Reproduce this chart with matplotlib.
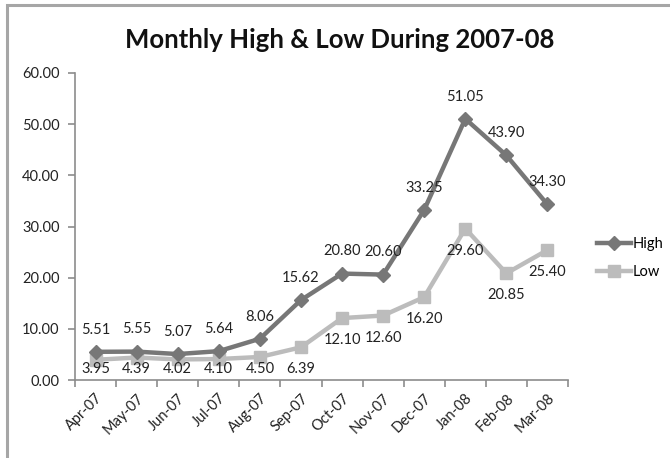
import matplotlib
matplotlib.use("Agg")
import matplotlib.pyplot as plt
from matplotlib.lines import Line2D
from matplotlib.patches import Rectangle

months = ["Apr-07", "May-07", "Jun-07", "Jul-07", "Aug-07", "Sep-07",
          "Oct-07", "Nov-07", "Dec-07", "Jan-08", "Feb-08", "Mar-08"]
high = [5.51, 5.55, 5.07, 5.64, 8.06, 15.62, 20.80, 20.60, 33.25, 51.05, 43.90, 34.30]
low = [3.95, 4.39, 4.02, 4.10, 4.50, 6.39, 12.10, 12.60, 16.20, 29.60, 20.85, 25.40]
yticks = [0, 10, 20, 30, 40, 50, 60]

HIGH_C = "#777777"
LOW_C = "#bcbcbc"
AXIS_C = "#8c8c8c"
FONT = "Lato"
FS = 10.5

plt.rcParams["font.family"] = [FONT, "DejaVu Sans"]

fig = plt.figure(figsize=(6.70, 4.58), dpi=100)
ax = fig.add_axes([75 / 670, 1 - 380 / 458, 493 / 670, 307 / 458])

x = list(range(len(months)))
ax.plot(x, high, color=HIGH_C, lw=3.2, marker="D", ms=7, mec=HIGH_C, mfc=HIGH_C,
        solid_joinstyle="miter", zorder=3)
ax.plot(x, low, color=LOW_C, lw=3.2, marker="s", ms=9, mec=LOW_C, mfc=LOW_C,
        solid_joinstyle="miter", zorder=2)

ax.set_xlim(-0.5, len(months) - 0.5)
ax.set_ylim(0, 60)

# value labels: highs above, lows below (kept inside the plot area)
for i, v in enumerate(high):
    ax.annotate(f"{v:.2f}", (i, v), xytext=(0, 16), textcoords="offset points",
                ha="center", va="center", fontsize=FS, color="#222222", zorder=5)
for i, v in enumerate(low):
    ypix = max(v - 4.3, 2.1)
    ax.text(i, ypix, f"{v:.2f}", ha="center", va="center", fontsize=FS,
            color="#222222", zorder=5)

for s in ["top", "right"]:
    ax.spines[s].set_visible(False)
for s in ["left", "bottom"]:
    ax.spines[s].set_color(AXIS_C)
    ax.spines[s].set_linewidth(1.2)

ax.set_yticks(yticks)
ax.set_yticklabels([f"{t:.2f}" for t in yticks])
ax.set_xticks(x)
ax.set_xticklabels(months, rotation=45, ha="right", rotation_mode="anchor")
ax.set_xticks([i - 0.5 for i in range(len(months) + 1)], minor=True)
ax.tick_params(axis="x", which="major", length=0, pad=8, labelsize=FS, labelcolor="#222222")
ax.tick_params(axis="x", which="minor", length=5, width=1.2, color=AXIS_C, direction="out")
ax.tick_params(axis="y", length=5, width=1.2, color=AXIS_C, direction="out",
               labelsize=FS, labelcolor="#222222", pad=6)

fig.text(340 / 670, 1 - 40 / 458, "Monthly High & Low During 2007-08",
         ha="center", va="center", fontsize=18.5, fontweight="bold", color="#111111")

handles = [
    Line2D([], [], color=HIGH_C, lw=3.2, marker="D", ms=7),
    Line2D([], [], color=LOW_C, lw=3.2, marker="s", ms=9),
]
fig.legend(handles, ["High", "Low"], loc="center left",
           bbox_to_anchor=(584 / 670, 1 - 258 / 458), frameon=False,
           fontsize=FS, handlelength=2.3, handletextpad=0.1, labelspacing=1.0)

# chart frame (left and top edges visible)
fig.patches.append(Rectangle((7 / 670, -0.05), 1.2, 1 - 5 / 458 + 0.05,
                             transform=fig.transFigure, fill=False,
                             edgecolor="#a6a6a6", lw=2.2))

fig.savefig("out.png", dpi=100)
